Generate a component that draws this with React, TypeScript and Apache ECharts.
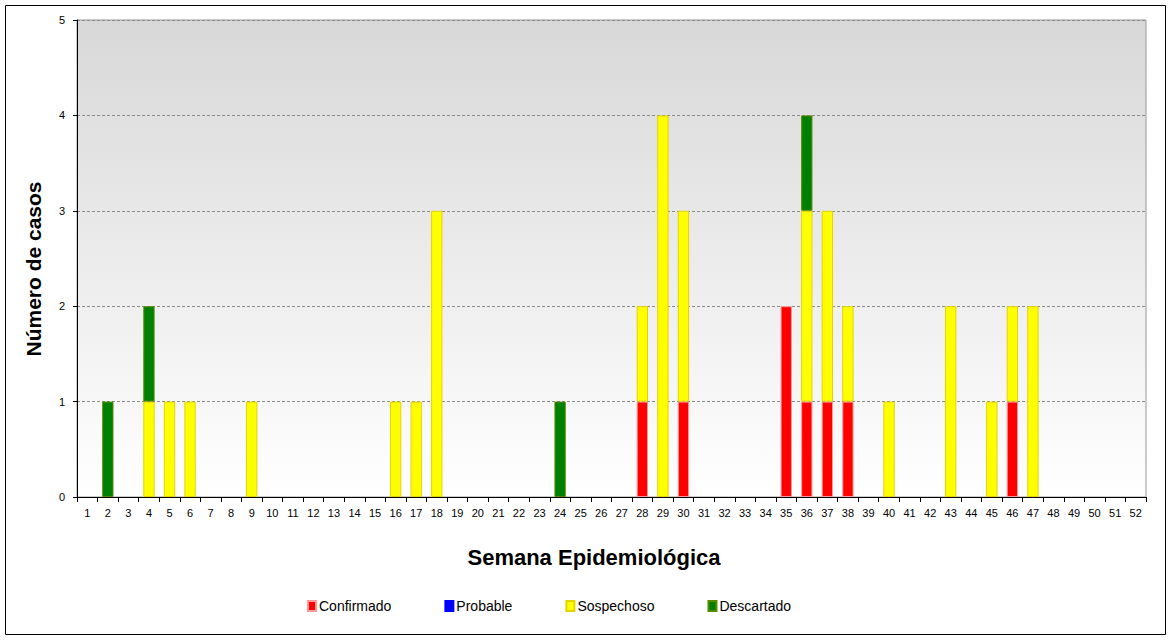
import React, { useEffect, useRef } from "react";
import * as echarts from "echarts";

const weeks: string[] = Array.from({ length: 52 }, (_, i) => String(i + 1));

// values per week (week number -> cases)
const confirmadoByWeek: Record<number, number> = { 28: 1, 30: 1, 35: 2, 36: 1, 37: 1, 38: 1, 46: 1 };
const probableByWeek: Record<number, number> = {};
const sospechosoByWeek: Record<number, number> = {
  4: 1, 5: 1, 6: 1, 9: 1, 16: 1, 17: 1, 18: 3, 28: 1, 29: 4, 30: 2, 36: 2, 37: 2, 38: 1, 40: 1, 43: 2, 45: 1, 46: 1, 47: 2,
};
const descartadoByWeek: Record<number, number> = { 2: 1, 4: 1, 24: 1, 36: 1 };

const yTicks = [0, 1, 2, 3, 4, 5];

const toSeries = (m: Record<number, number>) => weeks.map((w) => (m[Number(w)] ? m[Number(w)] : "-"));

export default function App() {
  const ref = useRef<HTMLDivElement>(null);
  useEffect(() => {
    document.body.style.margin = "0";
    const chart = echarts.init(ref.current!, null, { renderer: "svg" });
    const font = "Liberation Sans, Arial, sans-serif";
    const mk = (name: string, data: any[], color: string, border: string) => ({
      name,
      type: "bar",
      stack: "total",
      data,
      barWidth: "55%",
      itemStyle: { color, borderColor: border, borderWidth: 1 },
      emphasis: { disabled: true },
    });
    chart.setOption({
      animation: false,
      backgroundColor: "#ffffff",
      textStyle: { fontFamily: font },
      grid: {
        left: 77,
        right: 25,
        top: 20,
        bottom: 143,
        show: true,
        borderColor: "#999999",
        borderWidth: 1,
        backgroundColor: new echarts.graphic.LinearGradient(0, 0, 0, 1, [
          { offset: 0, color: "#d8d8d8" },
          { offset: 1, color: "#ffffff" },
        ]),
      },
      legend: {
        bottom: 22,
        left: 302,
        itemWidth: 8,
        itemHeight: 10,
        itemGap: 53,
        icon: "rect",
        textStyle: { fontSize: 14, color: "#000", fontFamily: font, padding: [0, 0, 0, -2] },
        data: ["Confirmado", "Probable", "Sospechoso", "Descartado"],
      },
      xAxis: {
        type: "category",
        data: weeks,
        axisLine: { lineStyle: { color: "#000" } },
        axisTick: { show: true, length: 5, lineStyle: { color: "#000" } },
        axisLabel: { interval: 0, color: "#000", fontSize: 11, margin: 10, fontFamily: font },
      },
      yAxis: {
        type: "value",
        min: yTicks[0],
        max: yTicks[yTicks.length - 1],
        interval: 1,
        axisLine: { show: true, lineStyle: { color: "#000" } },
        axisTick: { show: true, length: 4, lineStyle: { color: "#000" } },
        axisLabel: { color: "#000", fontSize: 11, margin: 12, fontFamily: font },
        splitLine: { show: true, lineStyle: { color: "#8c8c8c", type: [3, 2] } },
      },
      graphic: [
        {
          type: "rect",
          shape: { x: 5.5, y: 5.5, width: 1160, height: 629 },
          style: { fill: "none", stroke: "#000", lineWidth: 1 },
          silent: true,
          z: 100,
        },
        {
          type: "text",
          x: 594,
          y: 557,
          style: {
            text: "Semana Epidemiológica",
            font: `bold 22px ${font}`,
            fill: "#000",
            align: "center",
            verticalAlign: "middle",
          },
        },
        {
          type: "text",
          x: 33,
          y: 269,
          rotation: Math.PI / 2,
          style: {
            text: "Número de casos",
            font: `bold 21px ${font}`,
            fill: "#000",
            align: "center",
            verticalAlign: "middle",
          },
        },
      ],
      series: [
        mk("Confirmado", toSeries(confirmadoByWeek), "#ff0000", "#ff9999"),
        mk("Probable", toSeries(probableByWeek), "#0000ff", "#0000ff"),
        mk("Sospechoso", toSeries(sospechosoByWeek), "#ffff00", "#e6d200"),
        mk("Descartado", toSeries(descartadoByWeek), "#008000", "#5a8a00"),
      ],
    });
    return () => chart.dispose();
  }, []);
  return <div ref={ref} style={{ width: 1171, height: 640 }} />;
}
